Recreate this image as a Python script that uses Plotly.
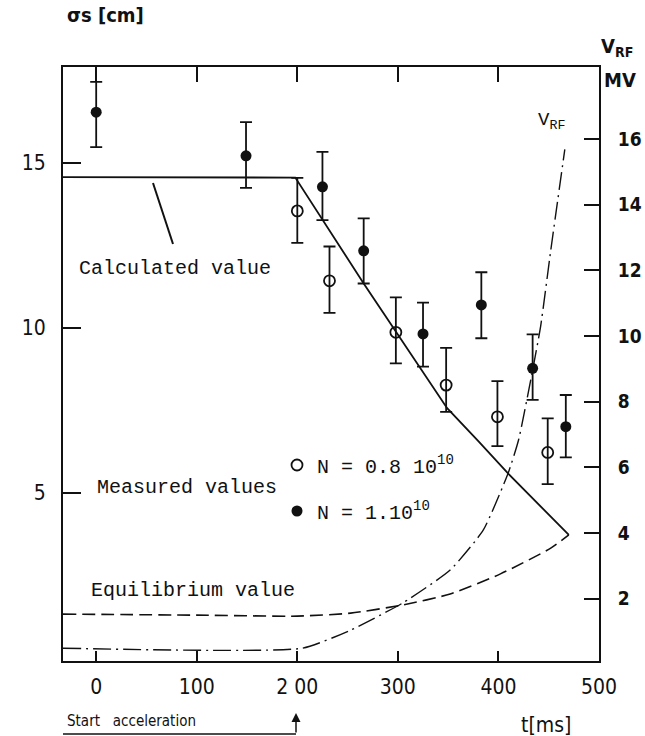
import plotly.graph_objects as go

# ---------------- data ----------------
# measured bunch length, N = 0.8e10 (open circles)
t_open = [200, 232, 298, 348, 399, 449]
sig_open = [13.55, 11.43, 9.87, 8.27, 7.31, 6.23]
err_open_up = [1.00, 1.04, 1.06, 1.13, 1.08, 1.03]
err_open_dn = [0.97, 0.97, 0.94, 0.81, 0.89, 0.96]

# measured bunch length, N = 1e10 (filled circles)
t_full = [0, 149, 225, 266, 325, 383, 434, 467]
sig_full = [16.54, 15.22, 14.28, 12.34, 9.82, 10.70, 8.78, 7.01]
err_full_up = [0.92, 1.02, 1.06, 0.98, 0.95, 0.99, 1.03, 0.96]
err_full_dn = [1.06, 0.97, 1.01, 0.99, 0.99, 1.01, 0.96, 0.93]

# calculated value (solid)
t_calc = [-33, 198, 266, 298, 349, 380, 410, 470]
sig_calc = [14.57, 14.56, 11.35, 9.90, 7.57, 6.57, 5.58, 3.73]

# equilibrium value (dashed)
t_eq = [-33, 100, 200, 253, 305, 352, 402, 452, 470]
sig_eq = [1.33, 1.30, 1.27, 1.36, 1.61, 1.94, 2.55, 3.33, 3.73]

# RF voltage (dash-dot, right axis, MV)
t_vrf = [-33, 205, 253, 305, 352, 385, 410, 420, 433, 442, 452, 466]
v_rf = [0.49, 0.49, 1.04, 1.87, 2.87, 4.09, 5.85, 6.83, 8.80, 10.30, 12.60, 15.68]

x_ticks = [0, 100, 200, 300, 400, 500]
x_ticktext = ["0", "100", "2 00", "300", "400", "500"]
sig_ticks = [5, 10, 15]
v_ticks = [2, 4, 6, 8, 10, 12, 14, 16]

label_open = "N = 0.8 10<sup>10</sup>"
label_full = "N = 1.10<sup>10</sup>"

# ---------------- layout geometry ----------------
W, H = 645, 736
L, R, T, B = 63, 46, 67, 75
PW, PH = W - L - R, H - T - B
INK = "#111111"
MONO = "Liberation Mono, Courier New, monospace"
SANS = "DejaVu Sans Condensed, DejaVu Sans, sans-serif"


def px(xp):
    return (xp - L) / PW


def py(yp):
    return (H - B - yp) / PH


fig = go.Figure()

fig.add_trace(go.Scatter(
    x=t_calc, y=sig_calc, mode="lines",
    line=dict(color=INK, width=1.8), showlegend=False, hoverinfo="skip"))
fig.add_trace(go.Scatter(
    x=t_eq, y=sig_eq, mode="lines",
    line=dict(color=INK, width=1.6, dash="13px,6px", shape="spline", smoothing=0.6),
    showlegend=False, hoverinfo="skip"))
fig.add_trace(go.Scatter(
    x=t_vrf, y=v_rf, mode="lines", yaxis="y2",
    line=dict(color=INK, width=1.4, dash="18px,5px,2px,5px", shape="spline", smoothing=0.5),
    showlegend=False, hoverinfo="skip"))

err_style = dict(type="data", symmetric=False, color=INK, thickness=1.8, width=6)
fig.add_trace(go.Scatter(
    x=t_open, y=sig_open, mode="markers",
    marker=dict(symbol="circle-open", size=11, color=INK, line=dict(width=1.8)),
    error_y=dict(array=err_open_up, arrayminus=err_open_dn, **err_style),
    showlegend=False))
fig.add_trace(go.Scatter(
    x=t_full, y=sig_full, mode="markers",
    marker=dict(symbol="circle", size=11, color=INK),
    error_y=dict(array=err_full_up, arrayminus=err_full_dn, **err_style),
    showlegend=False))

# legend-only keys
fig.add_trace(go.Scatter(
    x=[None], y=[None], mode="markers", name=label_open, legend="legend",
    marker=dict(symbol="circle-open", size=11, color=INK, line=dict(width=1.8))))
fig.add_trace(go.Scatter(
    x=[None], y=[None], mode="markers", name=label_full, legend="legend2",
    marker=dict(symbol="circle", size=11, color=INK)))

# dummy trace to realise top tick axis
fig.add_trace(go.Scatter(x=[None], y=[None], xaxis="x2", showlegend=False, hoverinfo="skip"))

axis_common = dict(showline=True, linecolor=INK, linewidth=2, showgrid=False,
                   zeroline=False, ticks="inside", tickcolor=INK, tickwidth=1.8,
                   automargin=False)

fig.update_layout(
    width=W, height=H,
    margin=dict(l=L, r=R, t=T, b=B, pad=0, autoexpand=False),
    paper_bgcolor="white", plot_bgcolor="white",
    xaxis=dict(range=[-33, 500], tickvals=x_ticks, ticktext=x_ticktext, ticklen=10,
               tickfont=dict(family=SANS, size=21, color=INK), ticklabelstandoff=6,
               **axis_common),
    xaxis2=dict(range=[-33, 500], matches="x", overlaying="x", side="top", anchor="y",
                tickvals=x_ticks[:-1], ticklen=15, showticklabels=False, **axis_common),
    yaxis=dict(range=[-0.09, 17.91], tickvals=sig_ticks, ticklen=18, mirror=True,
               tickfont=dict(family=SANS, size=21, color=INK), ticklabelstandoff=11,
               **axis_common),
    yaxis2=dict(range=[0.10, 18.19], overlaying="y", side="right", anchor="x",
                tickvals=v_ticks, ticklen=15,
                tickfont=dict(family=SANS, size=19, color=INK, weight="bold"),
                ticklabelstandoff=13, **axis_common),
    legend=dict(x=px(277), y=py(465), xanchor="left", yanchor="middle",
                bgcolor="rgba(0,0,0,0)", font=dict(family=MONO, size=20, color=INK)),
    legend2=dict(x=px(277), y=py(511), xanchor="left", yanchor="middle",
                 bgcolor="rgba(0,0,0,0)", font=dict(family=MONO, size=20, color=INK)),
)


def note(text, xp, yp, size=20, family=MONO, xanchor="center", **kw):
    fig.add_annotation(text=text, x=px(xp), y=py(yp), xref="paper", yref="paper",
                       xanchor=xanchor, yanchor="middle", showarrow=False,
                       font=dict(family=family, size=size, color=INK, **kw))


note("Calculated value", 175, 268)
note("Measured values", 187, 488)
note("Equilibrium value", 193, 590)
note("V<sub>RF</sub>", 551, 121, size=19)
note("σs [cm]", 105, 15, size=20, family=SANS, weight="bold")
note("V<sub>RF</sub>", 617, 47, size=20, family=SANS, weight="bold")
note("MV", 620, 80, size=20, family=SANS, weight="bold")
note("t[ms]", 546, 725, size=21, family=SANS)
note("Start\u00a0\u00a0\u00a0acceleration", 65, 721, size=15, family=SANS, xanchor="left")

# pointer from "Calculated value" to the curve
fig.add_shape(type="line", xref="paper", yref="paper",
              x0=px(153), y0=py(183), x1=px(173), y1=py(244),
              line=dict(color=INK, width=2))
# underline and arrow marking start of acceleration
fig.add_shape(type="line", xref="paper", yref="paper",
              x0=px(63), y0=py(734), x1=px(296), y1=py(734),
              line=dict(color=INK, width=1.5))
fig.add_annotation(x=px(296), y=py(713), xref="paper", yref="paper", text="",
                   showarrow=True, ax=0, ay=21, arrowhead=2, arrowsize=1.2,
                   arrowwidth=1.5, arrowcolor=INK)

fig.write_html("out.html")
